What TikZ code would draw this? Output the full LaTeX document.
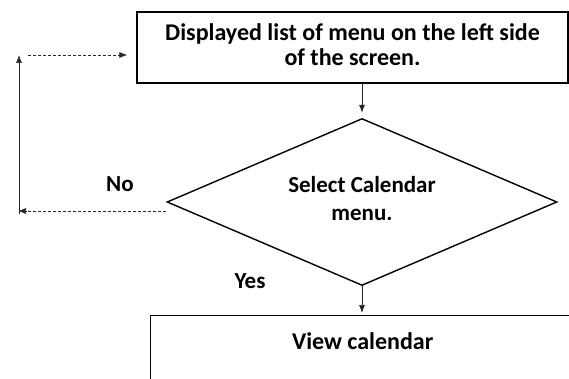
\documentclass[tikz,border=0pt]{standalone}
\usepackage{fontspec}
\setmainfont{Carlito}
\usepackage{tikz}
\usetikzlibrary{arrows.meta,positioning,shapes,calc}

\begin{document}
\begin{tikzpicture}[x=1pt, y=-1pt]
\tikzset{
    %grot strzalki
    >={Latex[length=8pt,width=6pt]},
    %styl prostokata
    krok/.style={
           rectangle, draw=black, line width=1.4pt,
           inner sep=0pt,
           font=\fontsize{24}{25}\selectfont\bfseries,
           align=center},
    %styl romba
    decyzja/.style={
           diamond, draw=black, line width=1.4pt,
           inner sep=0pt, aspect=2.3,
           minimum width=390pt, minimum height=167pt,
           font=\fontsize{23}{28}\selectfont\bfseries,
           align=center},
    %styl strzalki
    strzalka/.style={->, line width=0.7pt, black!85},
    napis/.style={font=\fontsize{23}{25}\selectfont\bfseries}
}
\useasboundingbox (0,0) rectangle (569,379);
\clip (0,0) rectangle (569,379);

%Bloki
\node(menu)  [krok, minimum width=431pt, minimum height=71pt] at (352.5,47.5)
      {Displayed list of menu on the left side\\of the screen.\rule[-5pt]{0pt}{5pt}};
\node(wybor) [decyzja] at (362,202) {Select Calendar\\menu.\rule[-7pt]{0pt}{7pt}};
\node(widok) [krok, anchor=north west, minimum width=424pt,
      inner ysep=12pt, text height=22pt, text depth=80pt] at (150,315) {View calendar};

%Napisy
\node(nie) [napis] at (120,184) {No};
\node(tak) [napis] at (250,281) {Yes};

%Rogi petli
\coordinate (dol)  at (18,211);
\coordinate (gora) at (19,55);

%Strzalki
\draw[strzalka, shorten >=5pt] (menu.south -| wybor.north) -- (wybor.north);
\draw[strzalka, shorten >=2pt] (wybor.south) -- (widok.north -| wybor.south);
\draw[strzalka, densely dashed] ([yshift=-9pt]wybor.west) -- (dol);
\draw[strzalka] ([yshift=-3pt]dol -| gora) -- (gora);
\draw[strzalka, densely dashed, shorten >=9pt] ([xshift=9pt]gora) -- (gora -| menu.west);
\end{tikzpicture}
\end{document}
